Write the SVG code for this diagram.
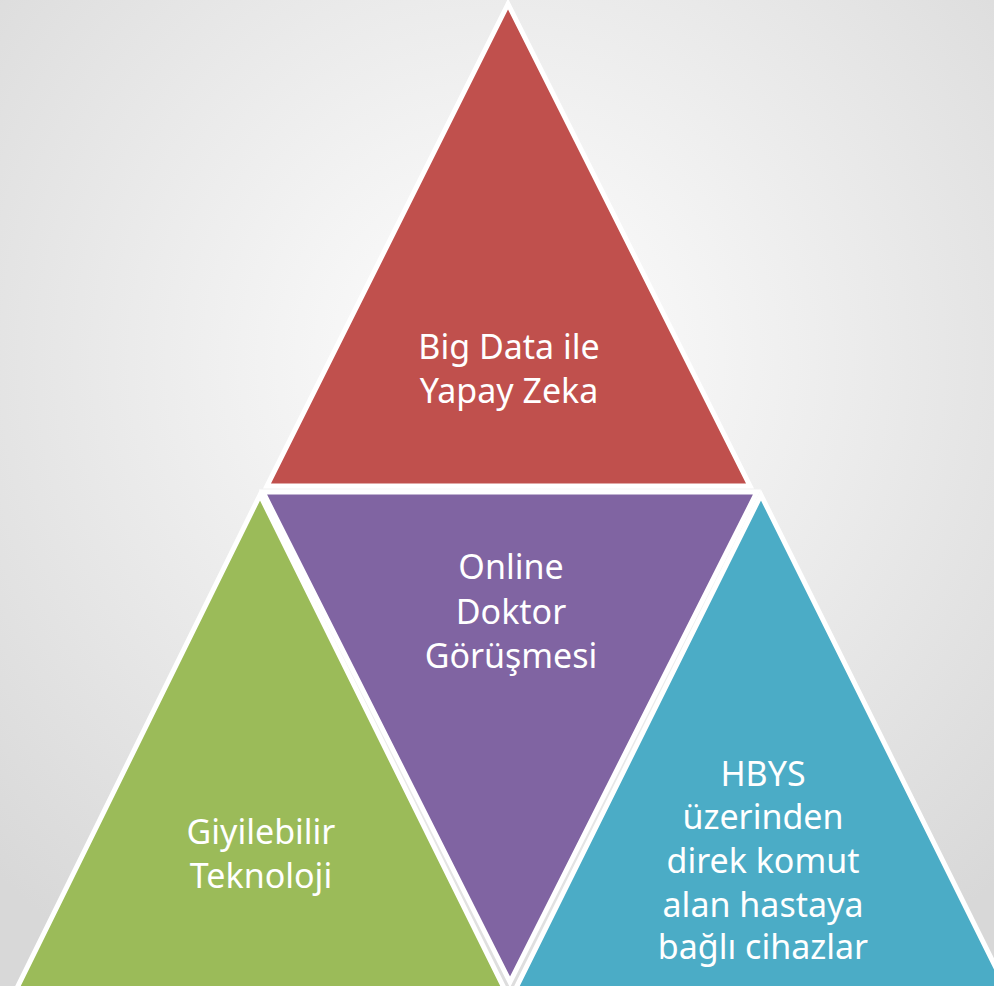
<svg xmlns="http://www.w3.org/2000/svg" width="994" height="986" viewBox="0 0 994 986">
<defs>
<radialGradient id="bg" cx="500" cy="360" r="720" gradientUnits="userSpaceOnUse">
<stop offset="0" stop-color="#ffffff"/>
<stop offset="1" stop-color="#d8d8d8"/>
</radialGradient>
<style>
.tri{stroke:#ffffff;stroke-width:5;stroke-linejoin:miter}
.lbl{font-family:"Noto Sans","Open Sans","DejaVu Sans",sans-serif;font-size:34px;fill:#ffffff;text-anchor:middle}
</style>
</defs>
<rect x="0" y="0" width="994" height="986" fill="url(#bg)"/>
<g id="node-top">
<polygon class="tri" fill="#C0504D" points="508,4 267,486 750,486"/>
<text class="lbl"><tspan x="509" y="359">Big Data ile</tspan><tspan x="509" y="403">Yapay Zeka</tspan></text>
</g>
<g id="node-middle">
<polygon class="tri" fill="#8064A2" points="263,492 757,492 510,982"/>
<text class="lbl"><tspan x="511" y="579">Online</tspan><tspan x="511" y="624">Doktor</tspan><tspan x="511" y="668">Görüşmesi</tspan></text>
</g>
<g id="node-left">
<polygon class="tri" fill="#9BBB59" points="260,495 16,990 505,990"/>
<text class="lbl"><tspan x="261" y="844">Giyilebilir</tspan><tspan x="261" y="888">Teknoloji</tspan></text>
</g>
<g id="node-right">
<polygon class="tri" fill="#4BACC6" points="761,495 515,990 1007,990"/>
<text class="lbl"><tspan x="763" y="786">HBYS</tspan><tspan x="763" y="829">üzerinden</tspan><tspan x="763" y="873">direk komut</tspan><tspan x="763" y="917">alan hastaya</tspan><tspan x="763" y="959">bağlı cihazlar</tspan></text>
</g>
<g id="connectors"></g>
</svg>
